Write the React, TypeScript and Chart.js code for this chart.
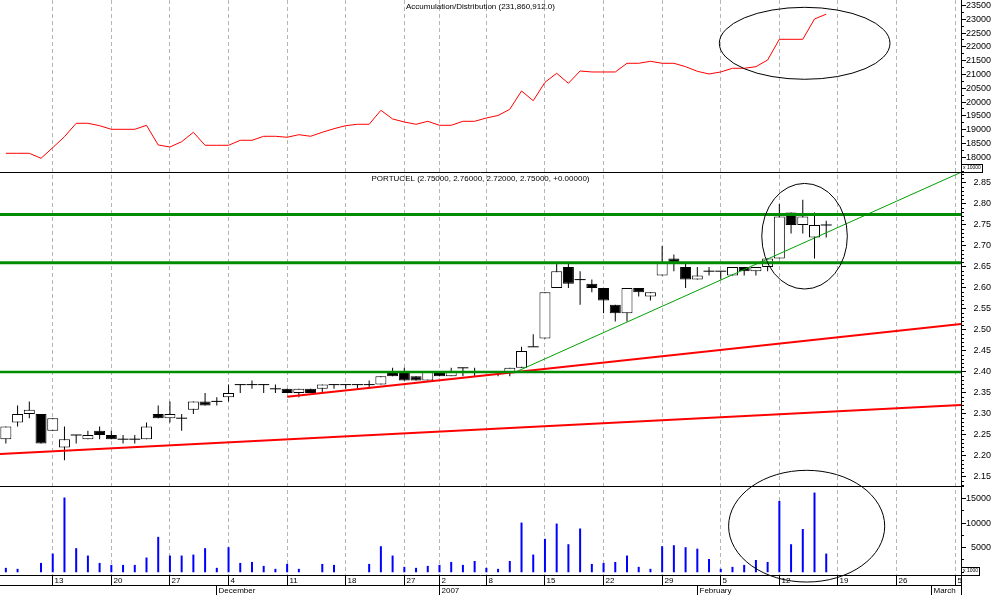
import React, { useEffect, useRef } from 'react';
import { Chart, registerables } from 'chart.js';

Chart.register(...registerables);

const FONT = "'Liberation Sans', Arial, sans-serif";

// trading days (categories)
const dates = [
  '2006-11-07', '2006-11-08', '2006-11-09', '2006-11-10', '2006-11-13', '2006-11-14', '2006-11-15', '2006-11-16', '2006-11-17',
  '2006-11-20', '2006-11-21', '2006-11-22', '2006-11-23', '2006-11-24', '2006-11-27', '2006-11-28', '2006-11-29', '2006-11-30',
  '2006-12-01', '2006-12-04', '2006-12-05', '2006-12-06', '2006-12-07', '2006-12-08', '2006-12-11', '2006-12-12', '2006-12-13',
  '2006-12-14', '2006-12-15', '2006-12-18', '2006-12-19', '2006-12-20', '2006-12-21', '2006-12-22', '2006-12-27', '2006-12-28',
  '2006-12-29', '2007-01-02', '2007-01-03', '2007-01-04', '2007-01-05', '2007-01-08', '2007-01-09', '2007-01-10', '2007-01-11',
  '2007-01-12', '2007-01-15', '2007-01-16', '2007-01-17', '2007-01-18', '2007-01-19', '2007-01-22', '2007-01-23', '2007-01-24',
  '2007-01-25', '2007-01-26', '2007-01-29', '2007-01-30', '2007-01-31', '2007-02-01', '2007-02-02', '2007-02-05', '2007-02-06',
  '2007-02-07', '2007-02-08', '2007-02-09', '2007-02-12', '2007-02-13', '2007-02-14', '2007-02-15', '2007-02-16', '2007-02-19',
  '2007-02-20', '2007-02-21', '2007-02-22', '2007-02-23', '2007-02-26', '2007-02-27', '2007-02-28', '2007-03-01', '2007-03-02',
  '2007-03-05',
];

const weekTicks = [
  '2006-11-13', '2006-11-20', '2006-11-27', '2006-12-04', '2006-12-11', '2006-12-18', '2006-12-27', '2007-01-02', '2007-01-08',
  '2007-01-15', '2007-01-22', '2007-01-29', '2007-02-05', '2007-02-12', '2007-02-19', '2007-02-26', '2007-03-05',
];
const weekLabels = ['13', '20', '27', '4', '11', '18', '27', '2', '8', '15', '22', '29', '5', '12', '19', '26', '5'];
const monthTicks = ['2006-12-01', '2007-01-02', '2007-02-01', '2007-03-01'];
const monthLabels = ['December', '2007', 'February', 'March'];

// OHLC
const open = [
  2.24, 2.28, 2.30, 2.30, 2.26, 2.22, 2.25, 2.24, 2.26, 2.25, 2.24, 2.24, 2.24, 2.30, 2.29, 2.29, 2.31, 2.33, 2.33, 2.34,
  2.37, 2.37, 2.37, 2.36, 2.36, 2.35, 2.36, 2.36, 2.37, 2.37, 2.37, 2.37, 2.37, 2.40, 2.40, 2.39, 2.38, 2.40, 2.39, 2.41,
  2.40, 2.40, 2.40, 2.40, 2.41, 2.46, 2.48, 2.60, 2.65, 2.62, 2.61, 2.60, 2.56, 2.54, 2.60, 2.58, 2.63, 2.67, 2.65, 2.62,
  2.64, 2.64, 2.63, 2.65, 2.64, 2.65, 2.67, 2.78, 2.75, 2.72, 2.75,
];
const high = [
  2.27, 2.32, 2.33, 2.30, 2.29, 2.27, 2.25, 2.26, 2.27, 2.26, 2.25, 2.25, 2.28, 2.32, 2.33, 2.30, 2.33, 2.35, 2.34, 2.37,
  2.37, 2.38, 2.37, 2.37, 2.36, 2.36, 2.36, 2.37, 2.37, 2.37, 2.37, 2.38, 2.39, 2.41, 2.41, 2.39, 2.40, 2.40, 2.41, 2.41,
  2.41, 2.40, 2.40, 2.41, 2.46, 2.49, 2.59, 2.66, 2.66, 2.64, 2.62, 2.60, 2.56, 2.60, 2.60, 2.59, 2.70, 2.68, 2.66, 2.65,
  2.65, 2.64, 2.65, 2.65, 2.65, 2.67, 2.80, 2.78, 2.81, 2.78, 2.76,
];
const low = [
  2.23, 2.27, 2.29, 2.23, 2.26, 2.19, 2.23, 2.24, 2.24, 2.24, 2.23, 2.23, 2.24, 2.29, 2.28, 2.26, 2.30, 2.32, 2.32, 2.33,
  2.35, 2.36, 2.35, 2.35, 2.35, 2.34, 2.35, 2.35, 2.36, 2.36, 2.36, 2.36, 2.37, 2.39, 2.38, 2.38, 2.38, 2.39, 2.39, 2.39,
  2.39, 2.40, 2.39, 2.39, 2.41, 2.46, 2.48, 2.60, 2.60, 2.56, 2.59, 2.54, 2.52, 2.52, 2.58, 2.57, 2.63, 2.64, 2.60, 2.62,
  2.63, 2.62, 2.63, 2.63, 2.63, 2.64, 2.67, 2.73, 2.73, 2.67, 2.72,
];
const close = [
  2.27, 2.30, 2.31, 2.23, 2.29, 2.24, 2.25, 2.25, 2.25, 2.24, 2.24, 2.24, 2.27, 2.29, 2.30, 2.29, 2.33, 2.32, 2.33, 2.35,
  2.37, 2.37, 2.37, 2.36, 2.35, 2.36, 2.35, 2.37, 2.37, 2.37, 2.37, 2.37, 2.39, 2.39, 2.38, 2.38, 2.40, 2.39, 2.40, 2.41,
  2.40, 2.40, 2.40, 2.41, 2.45, 2.46, 2.59, 2.64, 2.61, 2.62, 2.60, 2.57, 2.54, 2.60, 2.59, 2.59, 2.66, 2.66, 2.62, 2.63,
  2.64, 2.64, 2.65, 2.64, 2.65, 2.67, 2.77, 2.75, 2.77, 2.75, 2.75,
];

const volume = [
  900, 700, 0, 1900, 3800, 15200, 4900, 3400, 1900, 1500, 1500, 1500, 3000, 7200, 3400, 3400, 3600, 4900, 900, 5100,
  1900, 2100, 1300, 700, 1700, 700, 0, 1700, 1500, 0, 0, 1700, 5300, 3400, 1100, 900, 1300, 1500, 2100, 1500,
  2300, 900, 700, 2300, 10100, 3600, 6800, 9900, 5700, 8900, 1700, 1900, 2100, 3400, 1100, 700, 5300, 5500, 5100, 4800,
  2700, 700, 1100, 1500, 2500, 2100, 14500, 5700, 8800, 16200, 3800,
];

// Accumulation/Distribution (x 10000)
const accDist = [
  18145, 18145, 18145, 17964, 18348, 18746, 19232, 19232, 19145, 19014, 19014, 19014, 19159, 18446, 18373, 18565, 18906, 18435,
  18435, 18435, 18616, 18616, 18761, 18761, 18725, 18819, 18761, 18906, 19036, 19145, 19196, 19196, 19703, 19388, 19279, 19196,
  19304, 19159, 19159, 19304, 19304, 19424, 19515, 19739, 20402, 20051, 20717, 21043, 20681, 21127, 21091, 21091, 21091, 21406,
  21406, 21478, 21406, 21406, 21283, 21116, 21018, 21091, 21225, 21225, 21283, 21525, 22275, 22275, 22275, 23011, 23186,
];

const adTicks = [18000, 18500, 19000, 19500, 20000, 20500, 21000, 21500, 22000, 22500, 23000, 23500];
const priceTicks = [2.15, 2.2, 2.25, 2.3, 2.35, 2.4, 2.45, 2.5, 2.55, 2.6, 2.65, 2.7, 2.75, 2.8, 2.85];
const volTicks = [5000, 10000, 15000];

// drawn study lines (x in trading-day index, y in price)
const supportLevels = [2.775, 2.66, 2.40];
const lowerChannel = [[-0.5, 2.2048], [81.5, 2.3214]];
const upperChannel = [[24, 2.341], [81.5, 2.5143]];
const greenTrend = [[43.5, 2.40], [81.5, 2.8755]];

// highlight ellipses (centre and radii in data units)
const ellipses = [
  { axis: 'yAD', cx: 68.16, cy: 22130, rx: 7.28, ry: 1304 },
  { axis: 'yP', cx: 68.15, cy: 2.7233, rx: 3.65, ry: 0.1257 },
  { axis: 'yV', cx: 68.33, cy: 9368, rx: 6.66, ry: 11353 },
];

const crisp = (v: number) => Math.floor(v) + 0.5;

const decorPlugin = {
  id: 'decor',
  beforeDraw(chart: any) {
    const { ctx, width, height } = chart;
    ctx.save();
    ctx.fillStyle = '#ffffff';
    ctx.fillRect(0, 0, width, height);
    ctx.restore();
  },
  afterDraw(chart: any) {
    const { ctx, chartArea } = chart;
    const sx = chart.scales.x;
    const sA = chart.scales.yAD;
    const sP = chart.scales.yP;
    const sV = chart.scales.yV;
    const L = chartArea.left;
    const R = chartArea.right;
    const B = chartArea.bottom;
    const H = chart.height;
    ctx.save();
    ctx.strokeStyle = '#000';
    ctx.fillStyle = '#000';
    ctx.lineWidth = 1;
    const seg = (x1: number, y1: number, x2: number, y2: number) => {
      ctx.beginPath();
      ctx.moveTo(x1, y1);
      ctx.lineTo(x2, y2);
      ctx.stroke();
    };
    // panel frames
    seg(L, crisp(sA.bottom), R, crisp(sA.bottom));
    seg(L, crisp(sP.bottom), R, crisp(sP.bottom));
    seg(L, crisp(B), R, crisp(B));
    seg(L, crisp(B + 10), R, crisp(B + 10));
    seg(crisp(R), 0, crisp(R), H);

    // time axis
    ctx.font = `8px ${FONT}`;
    ctx.textBaseline = 'middle';
    ctx.textAlign = 'left';
    weekTicks.forEach((d, k) => {
      const px = crisp(sx.getPixelForValue(dates.indexOf(d)));
      seg(px, B, px, B + 10);
      ctx.fillText(weekLabels[k], px + 2, B + 5.5);
    });
    monthTicks.forEach((d, k) => {
      const px = crisp(sx.getPixelForValue(dates.indexOf(d)));
      seg(px, B + 10, px, H);
      ctx.fillText(monthLabels[k], px + 2, B + 15.5);
    });

    // right axes
    const axis = (scale: any, ticks: number[], minor: number, fmt: (v: number) => string) => {
      const k0 = Math.ceil(scale.min / minor);
      const k1 = Math.floor(scale.max / minor);
      for (let k = k0; k <= k1; k++) {
        const py = crisp(scale.getPixelForValue(k * minor));
        seg(R, py, R + 3, py);
      }
      ctx.font = `9px ${FONT}`;
      ctx.textAlign = 'right';
      ticks.forEach((v) => {
        const py = crisp(scale.getPixelForValue(v));
        seg(R, py, R + 5, py);
        ctx.fillText(fmt(v), 991, py);
      });
    };
    axis(sA, adTicks, 250, (v) => String(v));
    axis(sP, priceTicks, 0.01, (v) => v.toFixed(2));
    axis(sV, volTicks, 2500, (v) => String(v));

    // multiplier boxes
    ctx.font = `5px ${FONT}`;
    ctx.textAlign = 'left';
    ctx.strokeRect(crisp(R), crisp(sA.bottom - 8), 21, 8);
    ctx.fillText('x 10000', R + 2, sA.bottom - 4);
    ctx.strokeRect(crisp(R), crisp(sV.bottom - 8), 18, 8);
    ctx.fillText('x 1000', R + 2, sV.bottom - 4);

    // titles
    ctx.font = `8px ${FONT}`;
    ctx.textAlign = 'center';
    const n = close.length - 1;
    const chg = close[n] - close[n - 1];
    ctx.fillText('Accumulation/Distribution (231,860,912.0)', (L + R) / 2, sA.top + 7);
    ctx.fillText(
      `PORTUCEL (${open[n].toFixed(5)}, ${high[n].toFixed(5)}, ${low[n].toFixed(5)}, ${close[n].toFixed(5)}, ${chg >= 0 ? '+' : ''}${chg.toFixed(5)})`,
      (L + R) / 2,
      sP.top + 7,
    );

    // ellipses
    ellipses.forEach((e) => {
      const sc = chart.scales[e.axis];
      const cx = sx.getPixelForValue(e.cx);
      const cy = sc.getPixelForValue(e.cy);
      const rx = Math.abs(sx.getPixelForValue(e.cx + e.rx) - cx);
      const ry = Math.abs(sc.getPixelForValue(e.cy + e.ry) - cy);
      ctx.beginPath();
      ctx.ellipse(cx, cy, rx, ry, 0, 0, Math.PI * 2);
      ctx.stroke();
    });
    ctx.restore();
  },
};

export default function App() {
  const ref = useRef<HTMLCanvasElement | null>(null);
  useEffect(() => {
    if (!ref.current) return;
    const bodyPts: any[] = [];
    const bodyColors: string[] = [];
    const dojiPts: any[] = [];
    const wickPts: any[] = [];
    close.forEach((c, i) => {
      const o = open[i];
      if (high[i] > low[i]) wickPts.push({ x: i, y: [low[i], high[i]] });
      if (o === c) dojiPts.push({ x: i, y: c });
      else {
        bodyPts.push({ x: i, y: [Math.min(o, c), Math.max(o, c)] });
        bodyColors.push(c > o ? '#ffffff' : '#000000');
      }
    });
    const lineDs = (pts: number[][], color: string, width: number) => ({
      type: 'line',
      yAxisID: 'yP',
      data: pts.map((p) => ({ x: p[0], y: p[1] })),
      borderColor: color,
      borderWidth: width,
      pointRadius: 0,
      tension: 0,
      order: 0,
    });
    const last = dates.length - 0.5;
    const datasets: any[] = [
      ...supportLevels.map((lv, k) => lineDs([[-0.5, lv], [last, lv]], '#008c00', k < 2 ? 3 : 2.5)),
      lineDs(lowerChannel, '#ff0000', 2),
      lineDs(upperChannel, '#ff0000', 2),
      lineDs(greenTrend, '#00a000', 1),
      {
        type: 'line',
        yAxisID: 'yP',
        data: dojiPts,
        showLine: false,
        pointStyle: 'line',
        pointRadius: 5.5,
        pointBorderWidth: 1,
        pointBorderColor: '#000',
        pointBackgroundColor: '#000',
        order: 1,
      },
      {
        type: 'bar',
        yAxisID: 'yP',
        data: bodyPts,
        backgroundColor: bodyColors,
        borderColor: '#000',
        borderWidth: 1,
        borderSkipped: false,
        grouped: false,
        barThickness: 11,
        maxBarThickness: 11,
        inflateAmount: 0,
        order: 2,
      },
      {
        type: 'bar',
        yAxisID: 'yP',
        data: wickPts,
        backgroundColor: '#000',
        borderWidth: 0,
        grouped: false,
        barThickness: 1,
        maxBarThickness: 1,
        inflateAmount: 0,
        order: 3,
      },
      {
        type: 'bar',
        yAxisID: 'yV',
        data: volume.map((v, i) => ({ x: i, y: v })),
        backgroundColor: '#0000ff',
        borderWidth: 0,
        grouped: false,
        barThickness: 2,
        maxBarThickness: 2,
        inflateAmount: 0,
        clip: 0,
        order: 4,
      },
      {
        type: 'line',
        yAxisID: 'yAD',
        data: accDist.map((v, i) => ({ x: i, y: v })),
        borderColor: '#ff0000',
        borderWidth: 1,
        pointRadius: 0,
        tension: 0,
        order: 5,
      },
    ];
    const yCommon = (weight: number, min: number, max: number) => ({
      type: 'linear',
      axis: 'y',
      position: 'right',
      stack: 'panes',
      stackWeight: weight,
      min,
      max,
      offset: false,
      ticks: { display: false },
      grid: { display: false },
      border: { display: false },
      afterFit: (s: any) => {
        s.width = 33;
        s.paddingTop = 0;
        s.paddingBottom = 0;
      },
    });
    const chart = new Chart(ref.current, {
      type: 'line',
      data: { datasets },
      options: {
        responsive: false,
        animation: false,
        devicePixelRatio: 1,
        events: [],
        layout: { padding: 0, autoPadding: false },
        plugins: { legend: { display: false }, tooltip: { enabled: false }, title: { display: false } },
        scales: {
          x: {
            type: 'linear',
            min: -0.5,
            max: dates.length - 0.5,
            offset: false,
            bounds: 'data',
            afterBuildTicks: (s: any) => {
              s.ticks = weekTicks.map((d) => ({ value: dates.indexOf(d) }));
            },
            afterFit: (s: any) => {
              s.height = 20;
              s.paddingLeft = 0;
              s.paddingRight = 0;
            },
            ticks: { display: false },
            grid: { display: true, drawOnChartArea: true, drawTicks: false, color: '#b4b4b4', lineWidth: 1, offset: false },
            border: { display: false, dash: [4, 3] },
          },
          yAD: yCommon(172, 17467, 23699),
          yP: yCommon(314, 2.12857, 2.87619),
          yV: yCommon(89, -553, 17535),
        },
      } as any,
      plugins: [decorPlugin],
    } as any);
    return () => chart.destroy();
  }, []);
  return (
    <div style={{ position: 'absolute', left: 0, top: 0, width: 994, height: 595, background: '#fff' }}>
      <canvas ref={ref} width={994} height={595} style={{ display: 'block' }} />
    </div>
  );
}
